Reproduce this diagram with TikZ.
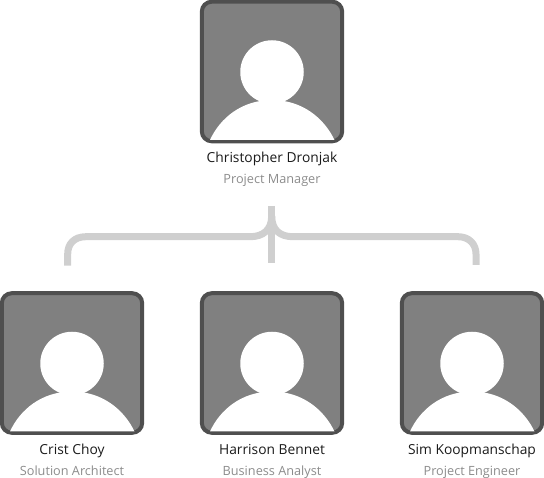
\documentclass[tikz,border=0pt]{standalone}
\usepackage{fontspec}
\setmainfont{Open Sans}
\definecolor{framec}{HTML}{4F4F4F}
\definecolor{fillc}{HTML}{808080}
\definecolor{linkc}{HTML}{CFCFCF}
\definecolor{namec}{HTML}{1A1A1A}
\definecolor{rolec}{HTML}{8C8C8C}
\tikzset{
  x=1pt,y=-1pt,
  photo/.style={draw=framec,fill=fillc,line width=4pt,rounded corners=10pt,minimum width=140.4pt,minimum height=139.6pt,inner sep=0pt,outer sep=2pt},
  head/.style={fill=white,circle,minimum size=63.5pt,inner sep=0pt},
  namelabel/.style={text=namec,font=\fontsize{13.8}{15}\selectfont,inner sep=0pt,anchor=base},
  rolelabel/.style={text=rolec,font=\fontsize{12.7}{14}\selectfont,inner sep=0pt,anchor=base},
  link/.style={draw=linkc,line width=7pt}
}
\newcommand{\person}[5]{% id, x, y, name, role
  \node[photo] (#1) at (#2+72,#3+71.5) {};
  \node[head] (#1head) at (#2+72,#3+72) {};
  \fill[white] (#2+10,#3+140) .. controls (#2+20,#3+118) and (#2+42,#3+100) .. (#2+72,#3+100) .. controls (#2+102,#3+100) and (#2+124,#3+118) .. (#2+134.5,#3+140) -- cycle;
  \node[namelabel] (#1name) at (#2+72,#3+163) {#4};
  \node[rolelabel] (#1role) at (#2+72,#3+184) {#5};
}
\begin{document}
\begin{tikzpicture}
\useasboundingbox (0,0) rectangle (544,478);
\person{pm}{200}{0}{Christopher Dronjak}{Project Manager}
\person{sa}{0}{291.5}{Crist Choy}{Solution Architect}
\person{ba}{200}{291.5}{Harrison Bennet}{Business Analyst}
\person{pe}{400}{291.5}{Sim Koopmanschap}{Project Engineer}
\coordinate (top) at (271.7,206);
\coordinate (bot) at (271.7,263);
\coordinate (lft) at (67.7,265.7);
\coordinate (rgt) at (476,265);
\draw[link] (top) -- (bot);
\draw[link] (lft) -- (67.7,254) .. controls (67.7,244) and (74,236.7) .. (86,236.7) -- (250,236.7) .. controls (263,236.7) and (271.7,230) .. (271.7,216);
\draw[link] (rgt) -- (476,254) .. controls (476,244) and (469,236.7) .. (458,236.7) -- (293,236.7) .. controls (280,236.7) and (271.7,230) .. (271.7,216);
\end{tikzpicture}
\end{document}
